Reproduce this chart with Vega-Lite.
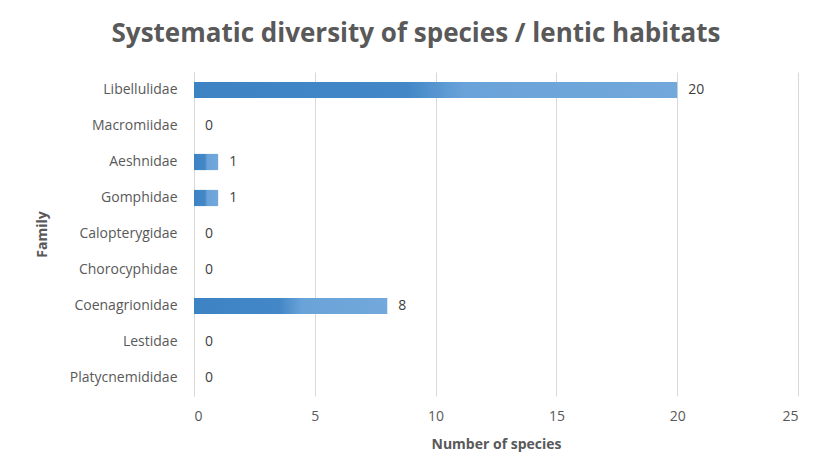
{
  "$schema": "https://vega.github.io/schema/vega-lite/v6.json",
  "width": 604,
  "height": 324,
  "autosize": {"type": "none"},
  "padding": {"left": 194, "top": 72, "right": 27, "bottom": 71},
  "background": "white",
  "title": {
    "text": "Systematic diversity of species / lentic habitats",
    "font": "Open Sans",
    "fontSize": 26,
    "fontWeight": "bold",
    "color": "#595959",
    "anchor": "middle",
    "dx": -80,
    "offset": 25
  },
  "data": {
    "values": [
      {"family": "Libellulidae", "species": 20},
      {"family": "Macromiidae", "species": 0},
      {"family": "Aeshnidae", "species": 1},
      {"family": "Gomphidae", "species": 1},
      {"family": "Calopterygidae", "species": 0},
      {"family": "Chorocyphidae", "species": 0},
      {"family": "Coenagrionidae", "species": 8},
      {"family": "Lestidae", "species": 0},
      {"family": "Platycnemididae", "species": 0}
    ]
  },
  "encoding": {
    "y": {
      "field": "family",
      "type": "nominal",
      "sort": null,
      "scale": {"paddingInner": 0.55, "paddingOuter": 0.275},
      "axis": {
        "title": "Family",
        "titleFont": "Open Sans",
        "titleFontSize": 14,
        "titleFontWeight": "bold",
        "titleColor": "#595959",
        "titleX": -145,
        "labelFont": "Open Sans",
        "labelFontSize": 14,
        "labelColor": "#595959",
        "labelPadding": 17,
        "ticks": false,
        "domainColor": "#d9d9d9",
        "grid": false
      }
    },
    "x": {
      "field": "species",
      "type": "quantitative",
      "scale": {"domain": [0, 25], "nice": false},
      "axis": {
        "title": "Number of species",
        "values": [0, 5, 10, 15, 20, 25],
        "titleFont": "Open Sans",
        "titleFontSize": 14,
        "titleFontWeight": "bold",
        "titleColor": "#595959",
        "titlePadding": 14,
        "labelFont": "Open Sans",
        "labelFontSize": 14,
        "labelColor": "#595959",
        "labelPadding": 13,
        "ticks": false,
        "domain": false,
        "grid": true,
        "gridColor": "#d9d9d9"
      }
    }
  },
  "layer": [
    {
      "mark": {
        "type": "bar",
        "color": {
          "gradient": "linear",
          "x1": 0, "x2": 1, "y1": 0, "y2": 0,
          "stops": [
            {"offset": 0, "color": "#3d83c4"},
            {"offset": 0.44, "color": "#4387c7"},
            {"offset": 0.56, "color": "#6aa3d9"},
            {"offset": 1, "color": "#72a8db"}
          ]
        }
      }
    },
    {
      "mark": {
        "type": "text",
        "align": "left",
        "dx": 11,
        "font": "Open Sans",
        "fontSize": 14,
        "color": "#404040"
      },
      "encoding": {"text": {"field": "species", "type": "quantitative"}}
    }
  ],
  "config": {"view": {"stroke": null}}
}
